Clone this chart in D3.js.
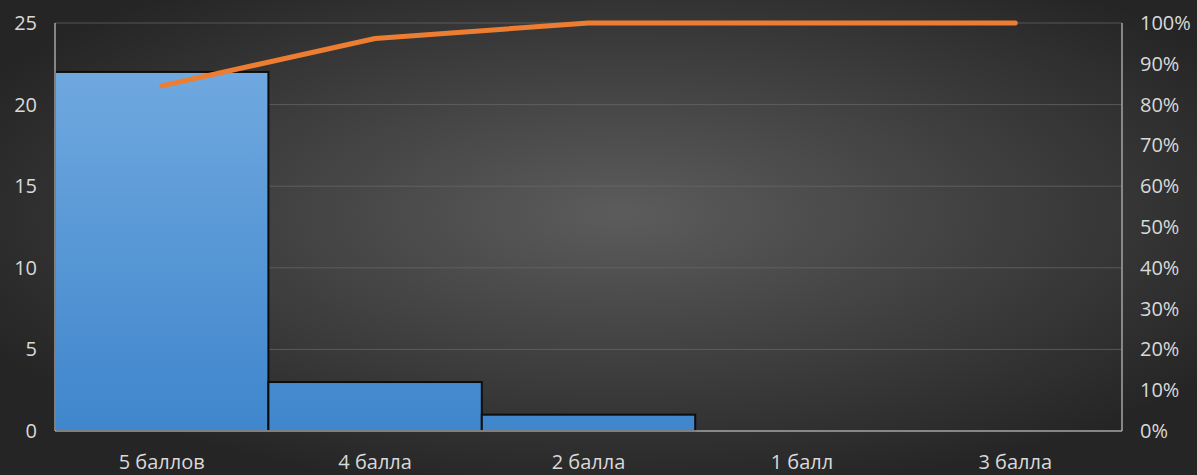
<!DOCTYPE html>
<html><head><meta charset="utf-8">
<script src="https://cdn.jsdelivr.net/npm/d3@7"></script>
<style>html,body{margin:0;padding:0;background:#2b2b2b;overflow:hidden}</style>
</head><body>
<svg id="chart" width="1197" height="475"></svg>
<script>
const categories = ["5 баллов", "4 балла", "2 балла", "1 балл", "3 балла"];
const counts = [22, 3, 1, 0, 0];
const cumulativePct = [84.6, 96.2, 100, 100, 100];
const leftTicks = [0, 5, 10, 15, 20, 25];
const rightTicks = [0, 10, 20, 30, 40, 50, 60, 70, 80, 90, 100];

const W = 1197, H = 475;
const m = {left: 55, right: 75, top: 23, bottom: 44};
const svg = d3.select("#chart");
const defs = svg.append("defs");
const rg = defs.append("radialGradient").attr("id", "bg")
  .attr("cx", "52%").attr("cy", "45%").attr("r", "60%")
  .attr("gradientUnits", "objectBoundingBox");
rg.append("stop").attr("offset", "0%").attr("stop-color", "#5c5c5c");
rg.append("stop").attr("offset", "100%").attr("stop-color", "#252525");
const bgb = defs.append("linearGradient").attr("id", "barg").attr("gradientUnits","userSpaceOnUse")
  .attr("x1", 0).attr("y1", m.top).attr("x2", 0).attr("y2", H - m.bottom);
bgb.append("stop").attr("offset", "0%").attr("stop-color", "#76ade2");
bgb.append("stop").attr("offset", "100%").attr("stop-color", "#3f86cc");

svg.append("rect").attr("width", W).attr("height", H).attr("fill", "url(#bg)");

const x = d3.scaleBand().domain(categories).range([m.left, W - m.right]).padding(0);
const y = d3.scaleLinear().domain([0, 25]).range([H - m.bottom, m.top]);
const y2 = d3.scaleLinear().domain([0, 100]).range([H - m.bottom, m.top]);

// gridlines
svg.append("g").selectAll("line").data(leftTicks.filter(d => d > 0)).join("line")
  .attr("x1", m.left).attr("x2", W - m.right)
  .attr("y1", d => y(d)).attr("y2", d => y(d))
  .attr("stroke", "#6a6a6a").attr("stroke-width", 1).attr("opacity", 0.7);

// bars
svg.append("g").selectAll("rect").data(categories.map((c, i) => ({c, v: counts[i]})).filter(d => d.v > 0)).join("rect")
  .attr("x", d => x(d.c)).attr("width", x.bandwidth())
  .attr("y", d => y(d.v)).attr("height", d => y(0) - y(d.v))
  .attr("fill", "url(#barg)").attr("stroke", "#0d0d0d").attr("stroke-width", 2);

// axes lines
const axisColor = "#a6a6a6";
svg.append("line").attr("x1", m.left).attr("x2", m.left).attr("y1", m.top).attr("y2", y(0)).attr("stroke", axisColor).attr("stroke-width", 1.5);
svg.append("line").attr("x1", W - m.right).attr("x2", W - m.right).attr("y1", m.top).attr("y2", y(0)).attr("stroke", axisColor).attr("stroke-width", 1.5);
svg.append("line").attr("x1", m.left).attr("x2", W - m.right).attr("y1", y(0)).attr("y2", y(0)).attr("stroke", axisColor).attr("stroke-width", 1.5);

// line
const line = d3.line().x((d, i) => x(categories[i]) + x.bandwidth() / 2).y(d => y2(d));
svg.append("path").datum(cumulativePct).attr("d", line)
  .attr("fill", "none").attr("stroke", "#ed7d31").attr("stroke-width", 5)
  .attr("stroke-linecap", "round").attr("stroke-linejoin", "round");

const font = "'Open Sans', sans-serif";
const txt = "#d9d9d9";
// left axis labels
svg.append("g").selectAll("text").data(leftTicks).join("text")
  .attr("x", 37).attr("y", d => y(d)).attr("dy", "0.35em")
  .attr("text-anchor", "end").attr("fill", txt)
  .style("font-family", font).style("font-size", "20px").text(d => d);
// right axis labels
svg.append("g").selectAll("text").data(rightTicks).join("text")
  .attr("x", 1140).attr("y", d => y2(d)).attr("dy", "0.35em")
  .attr("text-anchor", "start").attr("fill", txt)
  .style("font-family", font).style("font-size", "20px").text(d => d + "%");
// x labels
svg.append("g").selectAll("text").data(categories).join("text")
  .attr("x", d => x(d) + x.bandwidth() / 2).attr("y", 462).attr("dy", "0.35em")
  .attr("text-anchor", "middle").attr("fill", txt)
  .style("font-family", font).style("font-size", "20px").text(d => d);
</script>
</body></html>
